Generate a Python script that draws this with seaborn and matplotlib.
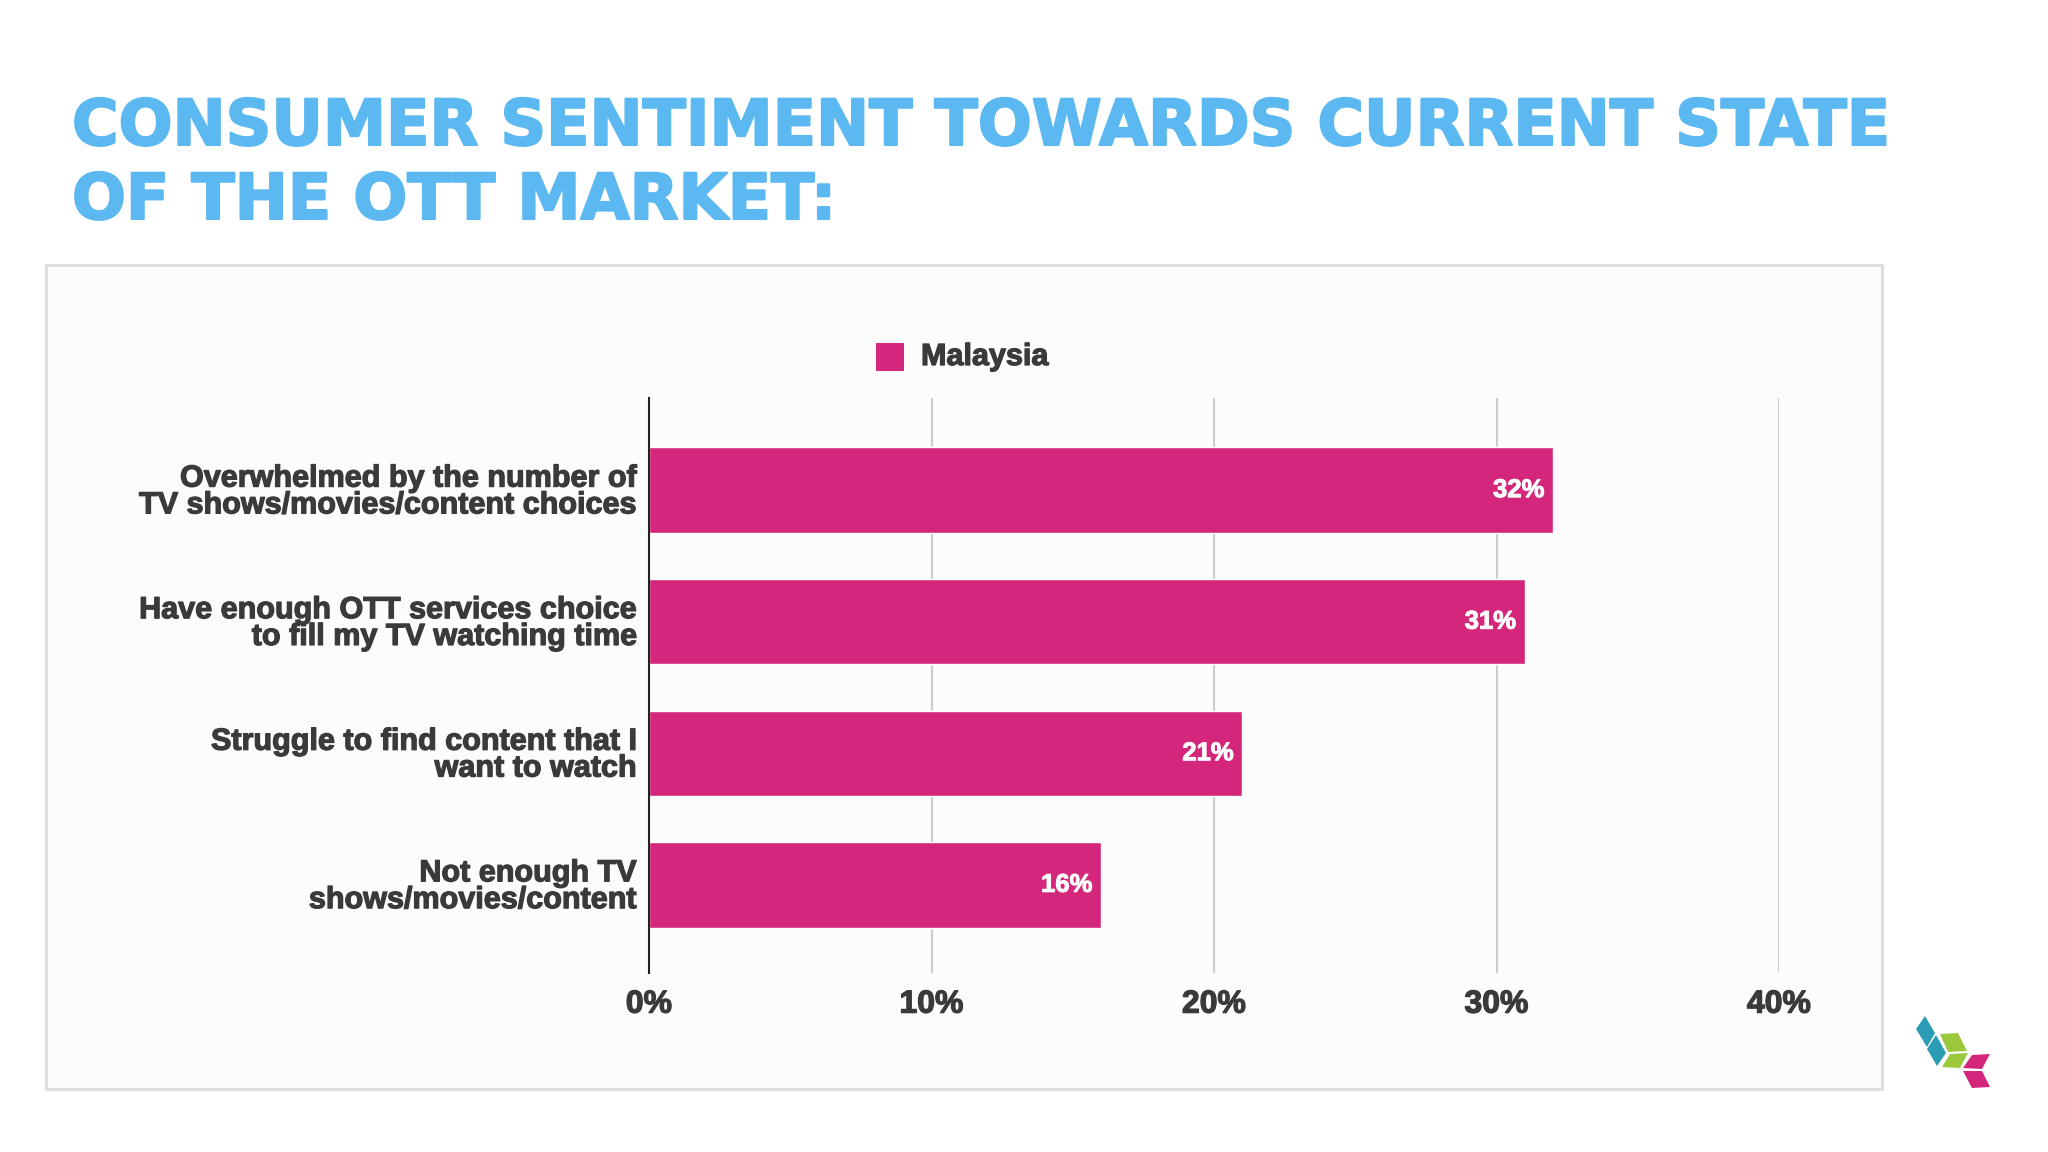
import numpy as np
import pandas as pd
import matplotlib.pyplot as plt
import matplotlib.patheffects as pe
import seaborn as sns
from matplotlib.patches import Rectangle, Polygon
from matplotlib.ticker import PercentFormatter

# data
categories = [
    "Overwhelmed by the number of\nTV shows/movies/content choices",
    "Have enough OTT services choice\nto fill my TV watching time",
    "Struggle to find content that I\nwant to watch",
    "Not enough TV\nshows/movies/content",
]
malaysia = [32, 31, 21, 16]
x_ticks = [0, 10, 20, 30, 40]

df = pd.DataFrame({"Statement": categories, "Malaysia": malaysia})

sns.set_theme(style="white")
plt.rcParams['font.family'] = ['Liberation Sans', 'DejaVu Sans']

pink = "#D4267A"
text_dark = "#3A3A3C"
title_blue = "#5CB8F0"

fig = plt.figure(figsize=(20.48, 11.52), dpi=100)
fig.patch.set_facecolor("white")

# chart card (behind the axes)
card = Rectangle((46 / 2048, 1 - 1089 / 1152), (1882 - 46) / 2048, (1089 - 265) / 1152,
                 transform=fig.transFigure, facecolor="#FDFCFD", edgecolor="#DCDCDC",
                 linewidth=2, zorder=-5)
fig.patches.append(card)

# title
thick = [pe.withStroke(linewidth=1.5, foreground=title_blue)]
for line, yb in [("CONSUMER SENTIMENT TOWARDS CURRENT STATE", 145),
                 ("OF THE OTT MARKET:", 219)]:
    fig.text(72 / 2048, 1 - yb / 1152, line, color=title_blue, fontsize=45.7,
             fontweight='bold', family=['DejaVu Sans'], va='baseline', ha='left',
             path_effects=thick)

ax = fig.add_axes([649 / 2048, 1 - 973 / 1152, (1779 - 649) / 2048, (973 - 398) / 1152])
ax.set_facecolor("none")

sns.barplot(data=df, y="Statement", x="Malaysia", color=pink, orient='h',
            width=0.65, ax=ax, zorder=3, saturation=1)

ax.set_xlim(0, 40)
ax.set_ylim(3.67, -0.7)
ax.set_xticks(x_ticks)
ax.xaxis.set_major_formatter(PercentFormatter(decimals=0))
ax.grid(axis='x', color="#CCCCCC", linewidth=1.5, zorder=0)
ax.grid(axis='y', visible=False)
for s in ["top", "right", "bottom"]:
    ax.spines[s].set_visible(False)
ax.spines["left"].set_color("#222222")
ax.spines["left"].set_linewidth(1.5)
ax.spines["left"].set_zorder(4)
ax.set_xlabel("")
ax.set_ylabel("")
ax.tick_params(axis='both', length=0)
ax.tick_params(axis='x', pad=12, labelsize=23, labelcolor=text_dark)
ax.tick_params(axis='y', pad=9, labelsize=22, labelcolor=text_dark)

dark_fx = [pe.withStroke(linewidth=0.9, foreground=text_dark)]
for lab in ax.get_xticklabels() + ax.get_yticklabels():
    lab.set_fontweight('bold')
    lab.set_path_effects(dark_fx)
for lab in ax.get_yticklabels():
    lab.set_linespacing(0.86)

for i, v in enumerate(malaysia):
    ax.text(v - 0.3, i, f"{v}%", color="white", fontsize=18.5, fontweight='bold',
            ha='right', va='center', zorder=5,
            path_effects=[pe.withStroke(linewidth=0.7, foreground="white")])

# legend
fig.patches.append(Rectangle((876 / 2048, 1 - 371 / 1152), 28 / 2048, 28 / 1152,
                             transform=fig.transFigure, facecolor=pink, edgecolor='none'))
fig.text(921 / 2048, 1 - 357 / 1152, "Malaysia", color=text_dark, fontsize=22,
         fontweight='bold', va='center', ha='left', path_effects=dark_fx)

# small logo in the corner
def fx(x):
    return x / 2048
def fy(y):
    return 1 - y / 1152
logo = [
    ([(1916, 1029), (1925, 1016), (1935, 1033), (1927, 1047)], "#2A9DB5"),
    ([(1927, 1049), (1936, 1035), (1946, 1053), (1937, 1066)], "#2A9DB5"),
    ([(1940, 1034), (1958, 1033), (1967, 1051), (1948, 1052)], "#9CC93B"),
    ([(1942, 1067), (1950, 1054), (1968, 1053), (1960, 1068)], "#9CC93B"),
    ([(1963, 1068), (1972, 1055), (1990, 1054), (1982, 1069)], "#D4267A"),
    ([(1963, 1071), (1982, 1071), (1990, 1087), (1972, 1088)], "#D4267A"),
]
for pts, c in logo:
    fig.patches.append(Polygon([(fx(x), fy(y)) for x, y in pts], closed=True,
                               transform=fig.transFigure, facecolor=c, edgecolor='none'))

plt.savefig("out.png", dpi=100)
